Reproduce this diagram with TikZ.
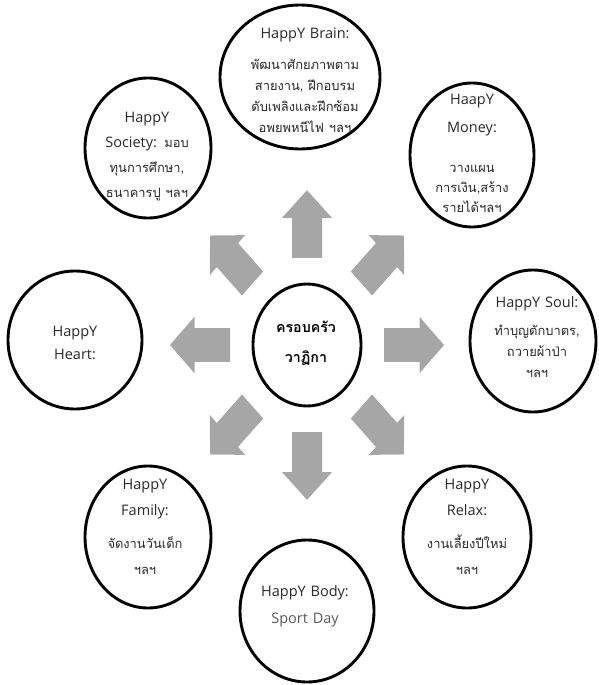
\documentclass[tikz,border=0pt]{standalone}
\usepackage{fontspec}
\setmainfont{Open Sans}
\newfontfamily\thaif[Script=Thai,Scale=0.89]{Loma}
\usetikzlibrary{shapes.geometric}
\definecolor{arrowgray}{HTML}{A6A6A6}
\definecolor{ink}{HTML}{2A2A2A}
\newcommand\tha{\thaif}
\begin{document}
\begin{tikzpicture}[x=1pt,y=-1pt,
  bubble/.style={ellipse, draw=black, line width=2.9pt, fill=white, inner sep=0pt},
  caption/.style={align=center, text width=150pt, text=ink, inner sep=0pt},
  blockarrow/.style={fill=arrowgray}]
\useasboundingbox (0,0) rectangle (598,685);
\fill[white] (0,0) rectangle (598,685);

% hub and the eight surrounding bubbles
\node[bubble, minimum width=108pt, minimum height=122pt] (hub) at (307,345) {};
\node[bubble, minimum width=160pt, minimum height=144pt] (brain)   at (300,77)  {};
\node[bubble, minimum width=126pt, minimum height=140pt] (society) at (148,148) {};
\node[bubble, minimum width=124pt, minimum height=144pt] (money)   at (472,155) {};
\node[bubble, minimum width=134pt, minimum height=138pt] (heart)   at (75,340)  {};
\node[bubble, minimum width=126pt, minimum height=142pt] (soul)    at (533,341) {};
\node[bubble, minimum width=126pt, minimum height=142pt] (family)  at (148,537) {};
\node[bubble, minimum width=128pt, minimum height=142pt] (relax)   at (467,537) {};
\node[bubble, minimum width=134pt, minimum height=142pt] (body)    at (307,611) {};

% block arrows radiating from the hub
\begin{scope}[shift={(hub.center)}, yscale=1.13]
  \foreach \a in {0,45,...,315}
    \fill[blockarrow, rotate=\a] (77,-15) -- (112.5,-15) -- (112.5,-25) -- (137,0)
      -- (112.5,25) -- (112.5,15) -- (77,15) -- cycle;
\end{scope}

% captions
\node[caption, font=\bfseries\thaif\fontsize{16}{30}\selectfont, text=black] (hub-text) at (306,343)
  {ครอบครัว\\วาฏิกา};
\node[caption, font=\fontsize{14.5}{21}\selectfont] (brain-text) at (305,80)
  {HappY Brain:\\[10pt]{\tha พัฒนาศักยภาพตาม\\สายงาน, ฝึกอบรม\\ดับเพลิงและฝึกซ้อม\\อพยพหนีไฟ ฯลฯ}};
\node[caption, font=\fontsize{14.5}{25}\selectfont] (society-text) at (147,157)
  {HappY\\Society: {\tha มอบ}\\{\tha ทุนการศึกษา,}\\{\tha ธนาคารปู ฯลฯ}};
\node[caption, font=\fontsize{14.5}{20}\selectfont] (money-text) at (472,153)
  {HaapY\\[8pt]Money:\\[20pt]{\tha วางแผน\\การเงิน,สร้าง\\รายได้ฯลฯ}};
\node[caption, font=\fontsize{14.5}{21}\selectfont] (soul-text) at (537,337)
  {HappY Soul:\\[7pt]{\tha ทำบุญตักบาตร,\\ถวายผ้าป่า\\ฯลฯ}};
\node[caption, font=\fontsize{14.5}{23}\selectfont] (heart-text) at (75,343)
  {HappY\\Heart:};
\node[caption, font=\fontsize{14.5}{26}\selectfont] (family-text) at (145,527)
  {HappY\\Family:\\[7pt]{\tha จัดงานวันเด็ก\\ฯลฯ}};
\node[caption, font=\fontsize{14.5}{26}\selectfont] (relax-text) at (467,527)
  {HappY\\Relax:\\[7pt]{\tha งานเลี้ยงปีใหม่\\ฯลฯ}};
\node[caption, font=\fontsize{14.5}{27}\selectfont] (body-text) at (305,606)
  {HappY Body:\\{\color{black!65}Sport Day}};
\end{tikzpicture}
\end{document}
